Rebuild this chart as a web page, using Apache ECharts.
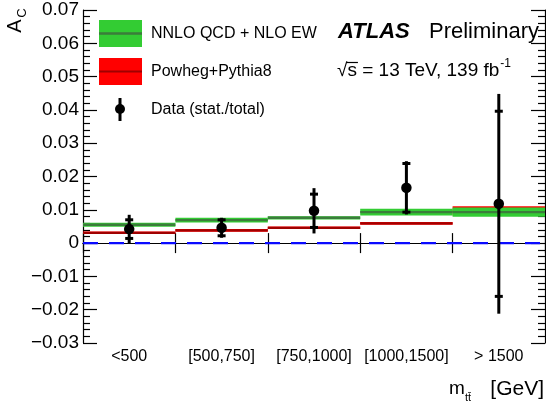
<!DOCTYPE html>
<html>
<head>
<meta charset="utf-8">
<script src="https://cdn.jsdelivr.net/npm/echarts@6/dist/echarts.min.js"></script>
<style>
html,body{margin:0;padding:0;background:#fff;}
#chart{width:546px;height:408px;}
</style>
</head>
<body>
<div id="chart"></div>
<script>
// ---- data ----
const categories = ['<500', '[500,750]', '[750,1000]', '[1000,1500]', '> 1500'];
const nnloValue  = [0.0055, 0.0069, 0.0076, 0.0093, 0.0093];
const nnloUnc    = [0.0006, 0.0007, 0.0005, 0.0010, 0.0014];
const powhegValue = [0.0031, 0.0038, 0.0046, 0.0059, 0.0097];
const powhegUnc   = [0.0004, 0.0004, 0.0004, 0.0004, 0.0014];
const dataValue = [0.0042, 0.0046, 0.0097, 0.0166, 0.0118];
const dataStat  = [0.0028, 0.0024, 0.0050, 0.0073, 0.0278];
const dataTotal = [0.0043, 0.0030, 0.0068, 0.0080, 0.0330];
const zeroLine = [0];
const yMin = -0.03, yMax = 0.07, yStep = 0.01;

const FONT = '"Liberation Sans", Arial, Helvetica, sans-serif';
const chart = echarts.init(document.getElementById('chart'), null, {renderer: 'canvas'});

function bandItem(params, api, fill) {
  const i = api.value(0);
  const p1 = api.coord([i, api.value(2)]);
  const p2 = api.coord([i, api.value(1)]);
  const w = api.size([1, 0])[0];
  return {type: 'rect', shape: {x: p1[0] - w / 2, y: p1[1], width: w, height: p2[1] - p1[1]}, style: {fill: fill}};
}
function lineItem(params, api, stroke, lw) {
  const i = api.value(0);
  const p = api.coord([i, api.value(1)]);
  const w = api.size([1, 0])[0];
  return {type: 'line', shape: {x1: p[0] - w / 2, y1: p[1], x2: p[0] + w / 2, y2: p[1]}, style: {stroke: stroke, lineWidth: lw}};
}

const yLabelFmt = v => Math.abs(v) < 1e-9 ? '0' : (v < 0 ? '\u2212' : '') + Math.abs(v).toFixed(2);

// measure helper for placing superscripts
const mctx = document.createElement('canvas').getContext('2d');
function tw(text, size, weight) { mctx.font = (weight || 'normal') + ' ' + size + 'px ' + FONT; return mctx.measureText(text).width; }

const sText = '\u221As = 13 TeV, 139 fb';
const sX = 337, sSize = 19;
const sW = tw(sText, sSize);
const rootW = tw('\u221A', sSize);
const sLetterW = tw('s', sSize);

const option = {
  animation: false,
  grid: {left: 83, right: 1, top: 10, bottom: 65},
  xAxis: [{
    type: 'category', data: categories, boundaryGap: true, position: 'bottom',
    axisLine: {show: true, lineStyle: {color: '#000', width: 1.2}},
    axisTick: {show: true, inside: true, length: 10, alignWithLabel: false, lineStyle: {color: '#000', width: 1.2}},
    axisLabel: {color: '#000', fontFamily: FONT, fontSize: 16, margin: 6, interval: 0, hideOverlap: false},
    splitLine: {show: false}
  }, {
    type: 'category', data: categories, boundaryGap: true, position: 'top',
    axisLine: {show: true, lineStyle: {color: '#000', width: 1.2}},
    axisTick: {show: true, inside: true, length: 10, lineStyle: {color: '#000', width: 1.2}},
    axisLabel: {show: false}, splitLine: {show: false}
  }],
  yAxis: [{
    type: 'value', min: yMin, max: yMax, interval: yStep, position: 'left',
    axisLine: {show: true, lineStyle: {color: '#000', width: 1.2}},
    axisTick: {show: true, inside: true, length: 14, lineStyle: {color: '#000', width: 1.2}},
    minorTick: {show: true, splitNumber: 5, length: 7, lineStyle: {color: '#000', width: 1.2}},
    axisLabel: {color: '#000', fontFamily: FONT, fontSize: 19, margin: 4, formatter: yLabelFmt},
    splitLine: {show: false}, minorSplitLine: {show: false}
  }, {
    type: 'value', min: yMin, max: yMax, interval: yStep, position: 'right',
    axisLine: {show: true, lineStyle: {color: '#000', width: 1.2}},
    axisTick: {show: true, inside: true, length: 14, lineStyle: {color: '#000', width: 1.2}},
    minorTick: {show: true, splitNumber: 5, length: 7, lineStyle: {color: '#000', width: 1.2}},
    axisLabel: {show: false}, splitLine: {show: false}, minorSplitLine: {show: false}
  }],
  series: [
    {
      name: 'Zero', type: 'custom', encode: {x: 0, y: 1}, silent: true,
      data: zeroLine.map(v => [0, v]),
      renderItem: (params, api) => {
        const cs = params.coordSys;
        const y = api.coord([0, api.value(1)])[1];
        return {type: 'line', shape: {x1: cs.x, y1: y, x2: cs.x + cs.width, y2: y},
                style: {stroke: '#0a0aff', lineWidth: 2.2, lineDash: [15, 11]}};
      }
    },
    {
      name: 'Powheg band', type: 'custom', encode: {x: 0, y: [1, 2]},
      data: categories.map((c, i) => [i, powhegValue[i] - powhegUnc[i], powhegValue[i] + powhegUnc[i]]),
      renderItem: (p, api) => bandItem(p, api, '#ff0000')
    },
    {
      name: 'Powheg', type: 'custom', encode: {x: 0, y: 1},
      data: categories.map((c, i) => [i, powhegValue[i]]),
      renderItem: (p, api) => lineItem(p, api, '#a00000', 2.2)
    },
    {
      name: 'NNLO band', type: 'custom', encode: {x: 0, y: [1, 2]},
      data: categories.map((c, i) => [i, nnloValue[i] - nnloUnc[i], nnloValue[i] + nnloUnc[i]]),
      renderItem: (p, api) => bandItem(p, api, '#33cc33')
    },
    {
      name: 'NNLO', type: 'custom', encode: {x: 0, y: 1},
      data: categories.map((c, i) => [i, nnloValue[i]]),
      renderItem: (p, api) => lineItem(p, api, '#3b7d3b', 2.4)
    },
    {
      name: 'Data errors', type: 'custom', encode: {x: 0, y: [1, 2]},
      data: categories.map((c, i) => [i, dataValue[i] - dataTotal[i], dataValue[i] + dataTotal[i],
                                      dataValue[i] - dataStat[i], dataValue[i] + dataStat[i]]),
      renderItem: (p, api) => {
        const i = api.value(0);
        const lo = api.coord([i, api.value(1)]);
        const hi = api.coord([i, api.value(2)]);
        const slo = api.coord([i, api.value(3)]);
        const shi = api.coord([i, api.value(4)]);
        const x = lo[0], hw = 4;
        return {type: 'group', children: [
          {type: 'line', shape: {x1: x, y1: lo[1], x2: x, y2: hi[1]}, style: {stroke: '#000', lineWidth: 3}},
          {type: 'line', shape: {x1: x - hw, y1: slo[1], x2: x + hw, y2: slo[1]}, style: {stroke: '#000', lineWidth: 3}},
          {type: 'line', shape: {x1: x - hw, y1: shi[1], x2: x + hw, y2: shi[1]}, style: {stroke: '#000', lineWidth: 3}}
        ]};
      }
    },
    {
      name: 'Data', type: 'scatter', symbol: 'circle', symbolSize: 10.5, z: 5,
      itemStyle: {color: '#000', opacity: 1},
      data: categories.map((c, i) => [i, dataValue[i]])
    }
  ],
  graphic: [
    // legend
    {type: 'rect', shape: {x: 99, y: 20, width: 43, height: 27}, style: {fill: '#33cc33'}},
    {type: 'line', shape: {x1: 99, y1: 33.5, x2: 142, y2: 33.5}, style: {stroke: '#3b7d3b', lineWidth: 2.4}},
    {type: 'text', x: 151, y: 34, style: {text: 'NNLO QCD + NLO EW', font: '16px ' + FONT, fill: '#000', verticalAlign: 'middle'}},
    {type: 'rect', shape: {x: 99, y: 58, width: 43, height: 27}, style: {fill: '#ff0000'}},
    {type: 'line', shape: {x1: 99, y1: 71.5, x2: 142, y2: 71.5}, style: {stroke: '#a00000', lineWidth: 2.2}},
    {type: 'text', x: 151, y: 72, style: {text: 'Powheg+Pythia8', font: '16px ' + FONT, fill: '#000', verticalAlign: 'middle'}},
    {type: 'line', shape: {x1: 120, y1: 98, x2: 120, y2: 121}, style: {stroke: '#000', lineWidth: 3}},
    {type: 'circle', shape: {cx: 120, cy: 109, r: 5}, style: {fill: '#000'}},
    {type: 'text', x: 151, y: 110, style: {text: 'Data (stat./total)', font: '16px ' + FONT, fill: '#000', verticalAlign: 'middle'}},
    // ATLAS label
    {type: 'text', x: 338, y: 32, style: {text: 'ATLAS', font: 'italic bold 22px ' + FONT, fill: '#000', verticalAlign: 'middle'}},
    {type: 'text', x: 429, y: 32, style: {text: 'Preliminary', font: '22px ' + FONT, fill: '#000', verticalAlign: 'middle'}},
    {type: 'text', x: sX, y: 71, style: {text: sText, font: sSize + 'px ' + FONT, fill: '#000', verticalAlign: 'middle'}},
    {type: 'line', shape: {x1: sX + rootW - 1, y1: 62.5, x2: sX + rootW + sLetterW + 1, y2: 62.5}, style: {stroke: '#000', lineWidth: 1.2}},
    {type: 'text', x: sX + sW + 1, y: 64, style: {text: '-1', font: '12px ' + FONT, fill: '#000', verticalAlign: 'middle'}},
    // y axis title
    {type: 'text', x: 15, y: 26, rotation: Math.PI / 2, style: {text: 'A', font: '20px ' + FONT, fill: '#000', align: 'center', verticalAlign: 'middle'}},
    {type: 'text', x: 22, y: 13, rotation: Math.PI / 2, style: {text: 'C', font: '13px ' + FONT, fill: '#000', align: 'center', verticalAlign: 'middle'}},
    // x axis title
    {type: 'text', x: 449, y: 389, style: {text: 'm', font: '19px ' + FONT, fill: '#000', verticalAlign: 'middle'}},
    {type: 'text', x: 465, y: 398, style: {text: 'tt\u0304', font: '11px ' + FONT, fill: '#000', verticalAlign: 'middle'}},
    {type: 'text', x: 544, y: 389, style: {text: '[GeV]', font: '21px ' + FONT, fill: '#000', align: 'right', verticalAlign: 'middle'}}
  ]
};
chart.setOption(option);
</script>
</body>
</html>
